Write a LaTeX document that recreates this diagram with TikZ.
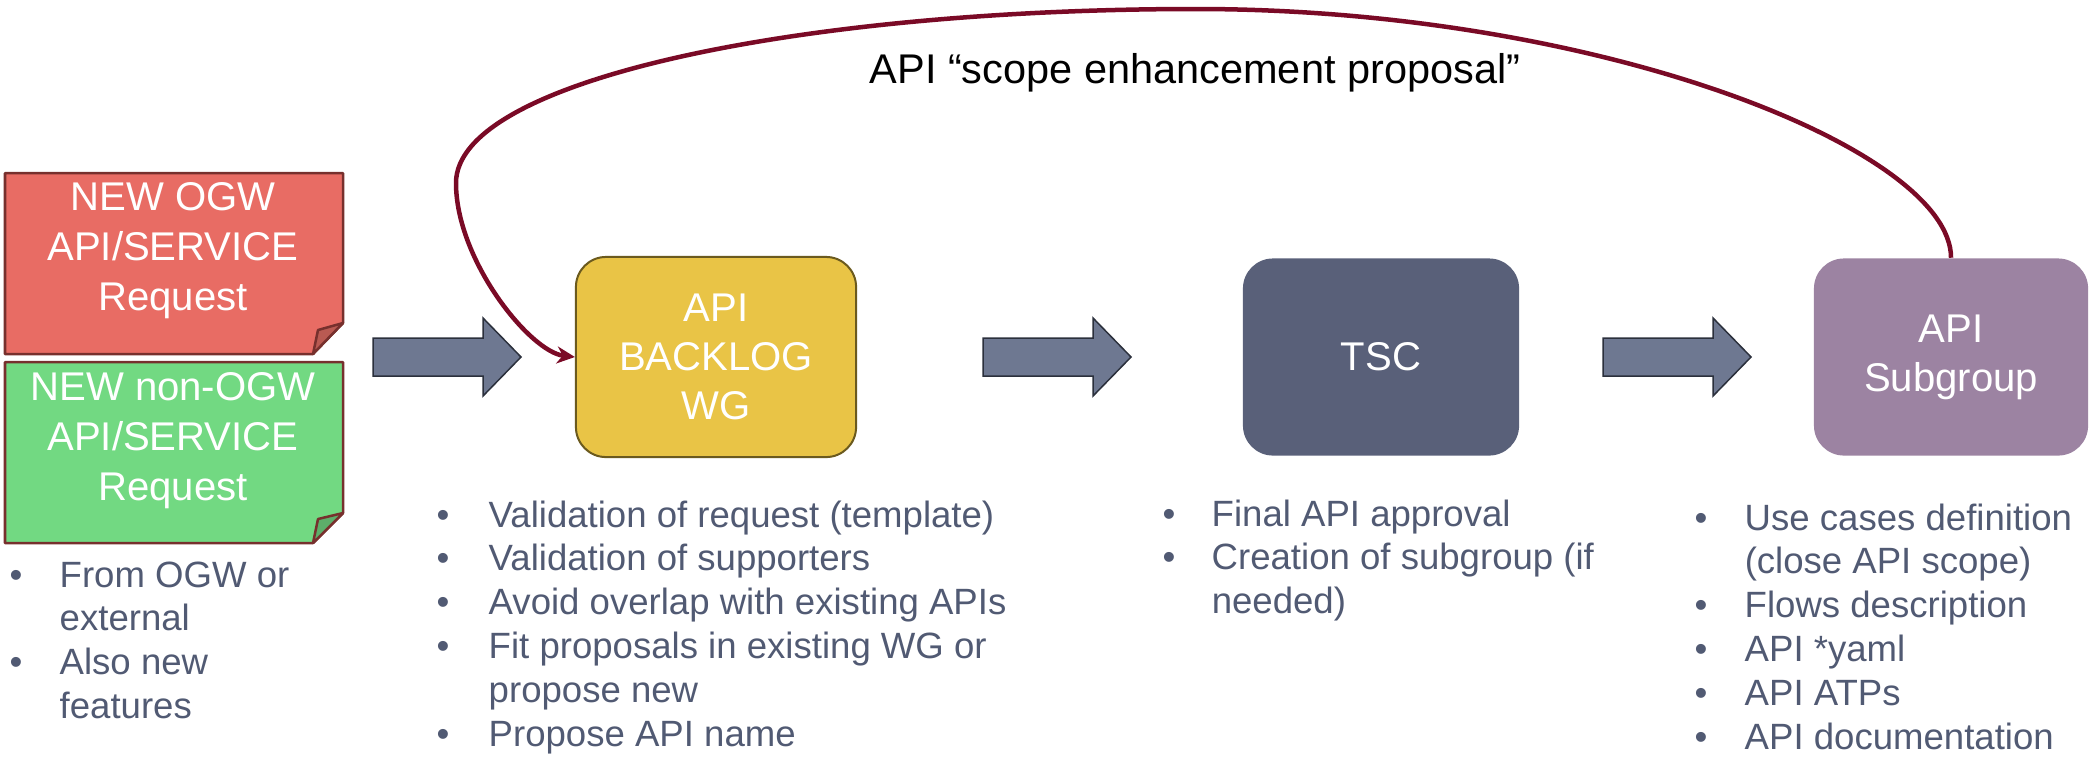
\documentclass[tikz,border=0pt]{standalone}
\usepackage{fontspec}
\setmainfont{Liberation Sans}
\usetikzlibrary{arrows.meta}
\definecolor{notered}{HTML}{E86C64}
\definecolor{notereddark}{HTML}{B95A52}
\definecolor{notegreen}{HTML}{72D982}
\definecolor{notegreendark}{HTML}{5DAE6A}
\definecolor{noteedge}{HTML}{77302D}
\definecolor{backlogfill}{HTML}{E9C446}
\definecolor{backlogedge}{HTML}{6B5A1E}
\definecolor{tscfill}{HTML}{596079}
\definecolor{subgroupfill}{HTML}{9C83A2}
\definecolor{arrowfill}{HTML}{6E7891}
\definecolor{arrowedge}{HTML}{2B303C}
\definecolor{loopred}{HTML}{7A0A26}
\definecolor{bullettext}{HTML}{515A73}
\tikzset{
  note/.style = {draw=noteedge, line width=0.25mm, line join=round},
  notetext/.style = {text=white, align=center, inner sep=0pt,
    font=\fontsize{11.4}{14.2}\selectfont},
  stage/.style = {rounded corners=0.3cm, minimum width=2.76cm, minimum height=1.97cm,
    text=white, align=center, font=\fontsize{11.4}{14}\selectfont},
  bullets/.style = {anchor=base west, inner sep=0pt, text=bullettext,
    font=\fontsize{10.4}{12.5}\selectfont},
  blockarrow/.style = {fill=arrowfill, draw=arrowedge, line width=0.15mm},
  feedback/.style = {draw=loopred, line width=0.45mm, -{Stealth[length=0.18cm,width=0.17cm]}}
}

\begin{document}
\begin{tikzpicture}[x=0.01cm, y=-0.01cm]
  \useasboundingbox (0,0) rectangle (2089,763);
  % request notes with folded corner
  \draw[note, fill=notered] (5,173) -- (343,173) -- (343,323) -- (313,354) -- (5,354) -- cycle;
  \draw[note, fill=notereddark] (313,354) -- (318,330) -- (343,323) -- cycle;
  \node[notetext] (newogw) at (173,251) {NEW OGW\\API/SERVICE\\Request};
  \draw[note, fill=notegreen] (5,362) -- (343,362) -- (343,513) -- (313,543) -- (5,543) -- cycle;
  \draw[note, fill=notegreendark] (313,543) -- (318,519) -- (343,513) -- cycle;
  \node[notetext] (nonogw) at (173,441) {NEW non-OGW\\API/SERVICE\\Request};
  % stages
  \node[stage, fill=backlogfill, draw=backlogedge, line width=0.2mm,
    minimum width=2.8cm, minimum height=2cm] (backlog) at (716,357) {API\\BACKLOG\\WG};
  \node[stage, fill=tscfill] (tsc) at (1381,357) {TSC};
  \node[stage, fill=subgroupfill, minimum width=2.74cm] (subgroup) at (1951,357) {API\\Subgroup};
  % block arrows between stages
  \foreach \x in {373,983,1603} {
    \draw[blockarrow] (\x,338) -- ++(110,0) -- ++(0,-20) -- ++(38,39)
      -- ++(-38,39) -- ++(0,-20) -- ++(-110,0) -- cycle;
  }
  % feedback loop
  \draw[feedback] (subgroup.north) .. controls (1951,150) and (1600,9) .. (1196,9)
    .. controls (800,9) and (456,80) .. (456,183)
    .. controls (456,260) and (530,352) .. (backlog.west);
  \node[anchor=base, inner sep=0pt, font=\fontsize{11.8}{14}\selectfont] (scopelbl)
    at (1195,83) {API “scope enhancement proposal”};
  % bullet lists
  \node[bullets] (requestnotes) at (9,587) {\begin{tabular}[t]{@{}p{0.5cm}@{}l@{}}
    • & From OGW or\\ & external\\ • & Also new\\ & features\end{tabular}};
  \node[bullets] (backlognotes) at (436,527) {\begin{tabular}[t]{@{}p{0.52cm}@{}l@{}}
    • & Validation of request (template)\\ • & Validation of supporters\\
    • & Avoid overlap with existing APIs\\ • & Fit proposals in existing WG or\\
      & propose new\\ • & Propose API name\end{tabular}};
  \node[bullets] (tscnotes) at (1162,526) {\begin{tabular}[t]{@{}p{0.49cm}@{}l@{}}
    • & Final API approval\\ • & Creation of subgroup (if\\ & needed)\end{tabular}};
  \node[bullets] (subgroupnotes) at (1694,530) {\begin{tabular}[t]{@{}p{0.5cm}@{}l@{}}
    • & Use cases definition\\ & (close API scope)\\ • & Flows description\\
    • & API *yaml\\ • & API ATPs\\ • & API documentation\end{tabular}};
\end{tikzpicture}
\end{document}
